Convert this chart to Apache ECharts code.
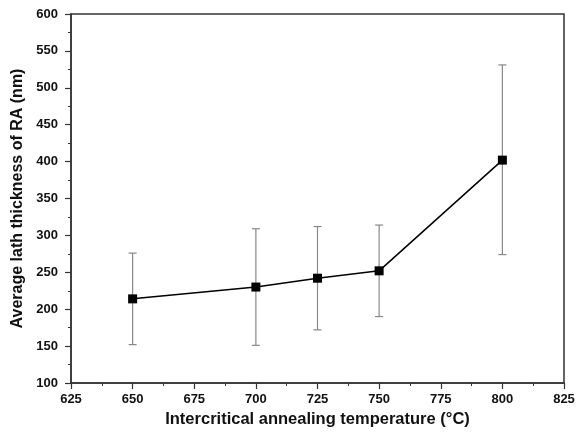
<!DOCTYPE html>
<html>
<head>
<meta charset="utf-8">
<script src="https://cdn.jsdelivr.net/npm/echarts@6/dist/echarts.min.js"></script>
<style>html,body{margin:0;padding:0;background:#fff}#c{width:576px;height:434px}</style>
</head>
<body>
<div id="c"></div>
<script>
var temps = [650, 700, 725, 750, 800];
var thickness = [214, 230, 242, 252, 402];
var errLow = [152, 151, 172, 190, 274];
var errHigh = [276, 309, 312, 314, 531];
var xTicks = [625, 650, 675, 700, 725, 750, 775, 800, 825];
var yTicks = [100, 150, 200, 250, 300, 350, 400, 450, 500, 550, 600];

var chart = echarts.init(document.getElementById('c'));
var font = 'Liberation Sans, Arial, sans-serif';
var errData = temps.map(function (t, i) { return [t, errLow[i], errHigh[i]]; });
var lineData = temps.map(function (t, i) { return [t, thickness[i]]; });

chart.setOption({
  animation: false,
  backgroundColor: '#fff',
  grid: { left: 71, right: 12, top: 14, bottom: 51, containLabel: false, outerBoundsMode: 'none', show: true, borderColor: '#333', borderWidth: 1.5, backgroundColor: 'transparent' },
  xAxis: {
    type: 'value', min: xTicks[0], max: xTicks[xTicks.length - 1], interval: 25,
    name: 'Intercritical annealing temperature (\u00B0C)', nameLocation: 'middle', nameGap: 27,
    nameTextStyle: { fontFamily: font, fontWeight: 'bold', fontSize: 16.5, color: '#111' },
    axisLine: { lineStyle: { color: '#333', width: 1.5 } },
    axisTick: { show: true, inside: false, length: 6, lineStyle: { color: '#333', width: 1.2 } },
    minorTick: { show: true, splitNumber: 2, length: 3, lineStyle: { color: '#333', width: 1 } },
    axisLabel: { fontFamily: font, fontWeight: 'bold', fontSize: 13, color: '#111', margin: 10 },
    splitLine: { show: false }
  },
  yAxis: {
    type: 'value', min: yTicks[0], max: yTicks[yTicks.length - 1], interval: 50,
    name: 'Average lath thickness of RA (nm)', nameLocation: 'middle', nameGap: 44,
    nameTextStyle: { fontFamily: font, fontWeight: 'bold', fontSize: 16, color: '#111' },
    axisLine: { show: true, lineStyle: { color: '#333', width: 1.5 } },
    axisTick: { show: true, inside: false, length: 6, lineStyle: { color: '#333', width: 1.2 } },
    minorTick: { show: true, splitNumber: 2, length: 3, lineStyle: { color: '#333', width: 1 } },
    axisLabel: { fontFamily: font, fontWeight: 'bold', fontSize: 13, color: '#111', margin: 13 },
    splitLine: { show: false }
  },
  series: [
    {
      type: 'custom',
      data: errData,
      encode: { x: 0, y: [1, 2] },
      renderItem: function (params, api) {
        var x = api.value(0);
        var lo = api.coord([x, api.value(1)]);
        var hi = api.coord([x, api.value(2)]);
        var w = 4;
        var st = { stroke: '#888', lineWidth: 1.2 };
        return {
          type: 'group',
          children: [
            { type: 'line', shape: { x1: lo[0], y1: lo[1], x2: hi[0], y2: hi[1] }, style: st },
            { type: 'line', shape: { x1: lo[0] - w, y1: lo[1], x2: lo[0] + w, y2: lo[1] }, style: st },
            { type: 'line', shape: { x1: hi[0] - w, y1: hi[1], x2: hi[0] + w, y2: hi[1] }, style: st }
          ]
        };
      },
      z: 1
    },
    {
      type: 'line',
      data: lineData,
      symbol: 'rect',
      symbolSize: 9,
      lineStyle: { color: '#000', width: 1.5 },
      itemStyle: { color: '#000' },
      z: 2
    }
  ]
});
</script>
</body>
</html>
